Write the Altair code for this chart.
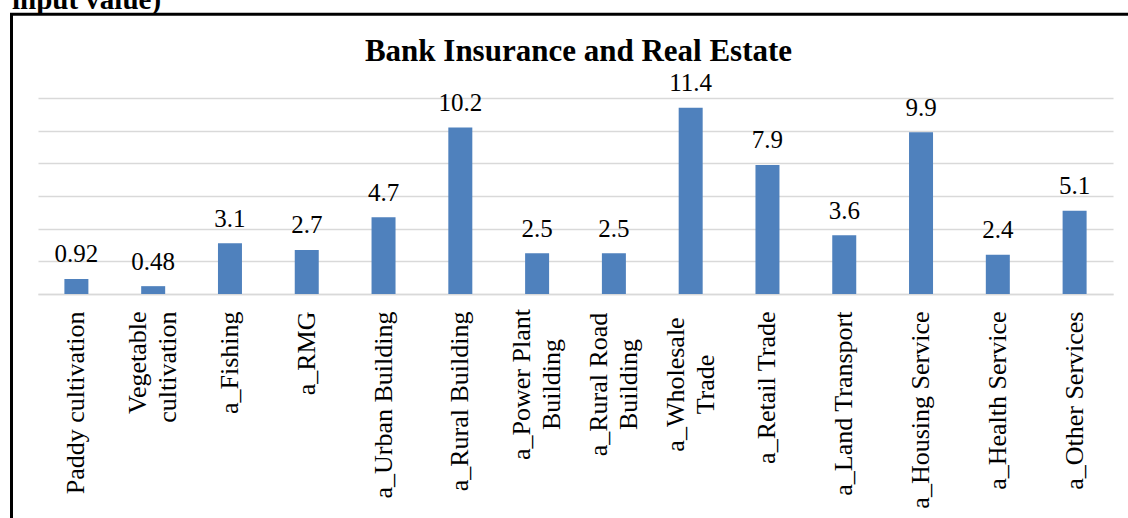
import altair as alt
import pandas as pd

categories = [
    "Paddy cultivation", "Vegetable\ncultivation", "a_Fishing", "a_RMG",
    "a_Urban Building", "a_Rural Building", "a_Power Plant\nBuilding",
    "a_Rural Road\nBuilding", "a_Wholesale\nTrade", "a_Retail Trade",
    "a_Land Transport", "a_Housing Service", "a_Health Service",
    "a_Other Services",
]
values = [0.92, 0.48, 3.1, 2.7, 4.7, 10.2, 2.5, 2.5, 11.4, 7.9, 3.6, 9.9, 2.4, 5.1]
value_labels = ["0.92", "0.48", "3.1", "2.7", "4.7", "10.2", "2.5", "2.5",
                "11.4", "7.9", "3.6", "9.9", "2.4", "5.1"]
y_ticks = [0, 2, 4, 6, 8, 10, 12]
chart_title = "Bank Insurance and Real Estate"
heading_text = "input value)"

df = pd.DataFrame({"cat": categories, "val": values, "lab": value_labels})

SERIF = "Liberation Serif"
PLOT_W, PLOT_H = 1075, 196
PAD_L, PAD_T = 38, 98

# two-line labels whose lines are centred on each other in the reference
centred = ["a_Power Plant\nBuilding", "a_Rural Road\nBuilding", "a_Wholesale\nTrade"]
js_list = ", ".join("'" + c.replace("\n", "\\n") + "'" for c in centred)
in_set = f"indexof([{js_list}], datum.label) >= 0"
two_line_offset = {"condition": {"test": "indexof(datum.label, '\\n') >= 0", "value": -15}, "value": 0}

x_scale = alt.Scale(paddingInner=0.6875, paddingOuter=0.34375)
common_axis = dict(
    title=None, labelAngle=-90, labelFont=SERIF, labelFontSize=26,
    labelColor="black", labelLineHeight=30, ticks=False, labelLimit=400,
    labelBaseline="middle", labelOffset=two_line_offset, orient="bottom",
)

x_main = alt.X(
    "cat:N", sort=categories, scale=x_scale,
    axis=alt.Axis(
        labelPadding=17, labelAlign="right",
        labelExpr=f"{in_set} ? '' : split(datum.label, '\\n')",
        domainColor="#d9d9d9", domainWidth=1.5, **common_axis,
    ),
)
x_centred = alt.X(
    "cat:N", sort=categories, scale=x_scale,
    axis=alt.Axis(
        labelPadding=90, labelAlign="center", domain=False, grid=False,
        labelExpr=f"{in_set} ? split(datum.label, '\\n') : ''",
        **common_axis,
    ),
)
y_enc = alt.Y(
    "val:Q",
    scale=alt.Scale(domain=[0, 12], nice=False, zero=True),
    axis=alt.Axis(
        title=None, labels=False, ticks=False, domain=False, values=y_ticks,
        grid=True, gridColor="#d9d9d9", gridWidth=1.5,
    ),
)

base = alt.Chart(df)
bars = base.mark_bar(color="#4F81BD").encode(x=x_main, y=y_enc)
labels = base.mark_text(
    font=SERIF, fontSize=25, color="black", baseline="alphabetic", dy=-16.5
).encode(x=x_centred, y=y_enc, text="lab:N")

deco = alt.Chart(pd.DataFrame({"t": [chart_title], "h": [heading_text]}))
title_mark = deco.mark_text(
    font=SERIF, fontSize=31, fontWeight="bold", color="black",
    align="center", baseline="alphabetic",
).encode(x=alt.value(540.5), y=alt.value(-37), text="t:N")
heading_mark = deco.mark_text(
    font=SERIF, fontSize=29, fontWeight="bold", color="black",
    align="left", baseline="alphabetic",
).encode(x=alt.value(-26), y=alt.value(-89), text="h:N")
frame_top = deco.mark_rule(color="black", strokeWidth=3).encode(
    x=alt.value(-28), x2=alt.value(1120), y=alt.value(-83.7)
)
frame_left = deco.mark_rule(color="black", strokeWidth=3).encode(
    x=alt.value(-26.5), y=alt.value(-85), y2=alt.value(440)
)

chart = alt.layer(
    bars, labels, title_mark, heading_mark, frame_top, frame_left
).resolve_axis(x="independent").properties(
    width=PLOT_W, height=PLOT_H,
    autosize=alt.AutoSizeParams(type="none"),
    padding={"left": PAD_L, "top": PAD_T, "right": 1128 - PAD_L - PLOT_W,
             "bottom": 518 - PAD_T - PLOT_H},
    background="white",
).configure_view(stroke=None)

chart.save("out.html", embed_options={"renderer": "svg", "actions": False})
